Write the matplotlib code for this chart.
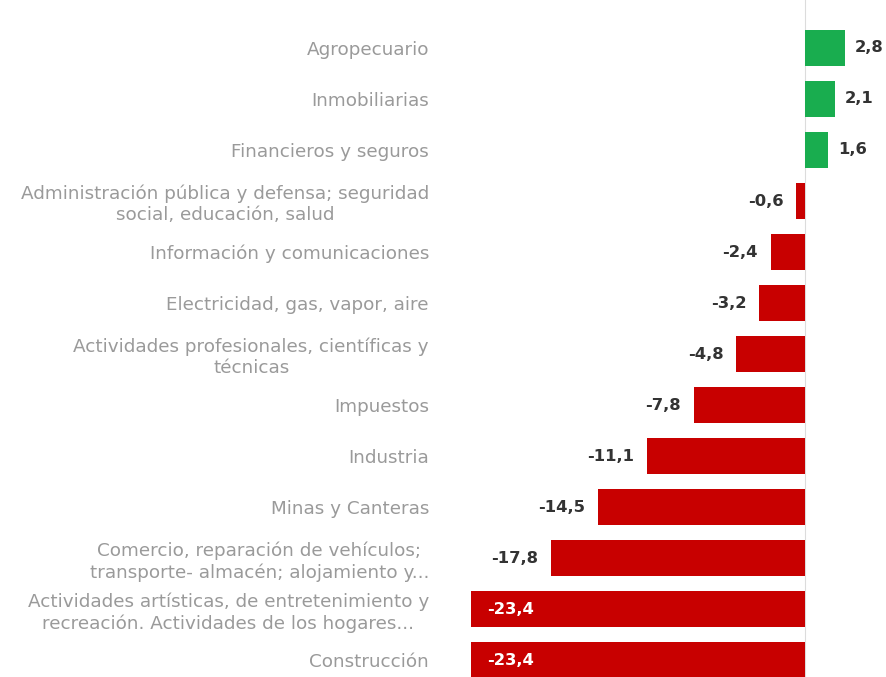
import numpy as np
import matplotlib.pyplot as plt

# Variación por sector (%)
sectores = [
    "Agropecuario",
    "Inmobiliarias",
    "Financieros y seguros",
    "Administración pública y defensa; seguridad\nsocial, educación, salud",
    "Información y comunicaciones",
    "Electricidad, gas, vapor, aire",
    "Actividades profesionales, científicas y\ntécnicas",
    "Impuestos",
    "Industria",
    "Minas y Canteras",
    "Comercio, reparación de vehículos;\ntransporte- almacén; alojamiento y...",
    "Actividades artísticas, de entretenimiento y\nrecreación. Actividades de los hogares...",
    "Construcción",
]
variacion = [2.8, 2.1, 1.6, -0.6, -2.4, -3.2, -4.8, -7.8, -11.1, -14.5, -17.8, -23.4, -23.4]

verde = "#19ad4f"
rojo = "#c80000"

fig = plt.figure(figsize=(8.86, 6.77), dpi=100)
ax = fig.add_axes([440 / 886, 0, 446 / 886, 1])

y = np.arange(len(sectores))
colores = [verde if v > 0 else rojo for v in variacion]
ax.barh(y, variacion, height=0.7, color=colores, zorder=2)
ax.axvline(0, color="#dcdcdc", lw=0.8, zorder=1)

ax.set_xlim(-25.58, 5.68)
ax.set_ylim(12.33, -0.94)

ax.set_yticks(y)
ax.set_yticklabels(sectores, fontsize=13.2, color="#9a9a9a", family="DejaVu Sans",
                   multialignment="center", linespacing=1.2)
ax.tick_params(axis="y", length=0, pad=8)
ax.set_xticks([])
for s in ax.spines.values():
    s.set_visible(False)

# Etiquetas de valor
for yi, v in zip(y, variacion):
    txt = f"{v:.1f}".replace(".", ",")
    if v > 0:
        ax.text(v + 0.7, yi, txt, ha="left", va="center", fontsize=11.8,
                fontweight="bold", color="#333333")
    elif v <= -20:
        ax.text(v + 1.1, yi, txt, ha="left", va="center", fontsize=11.8,
                fontweight="bold", color="white")
    else:
        ax.text(v - 0.9, yi, txt, ha="right", va="center", fontsize=11.8,
                fontweight="bold", color="#333333")

fig.savefig("out.png", dpi=100)
